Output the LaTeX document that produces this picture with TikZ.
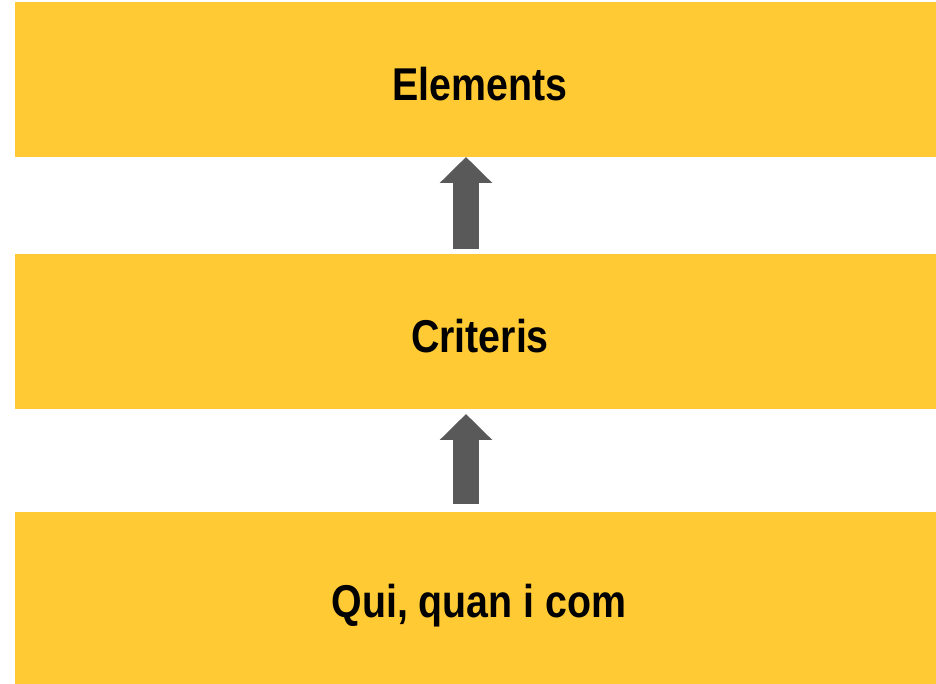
\documentclass[tikz,border=0pt]{standalone}
\usepackage{fontspec}
\setmainfont{Liberation Sans}[FakeStretch=0.855]
\usetikzlibrary{arrows.meta}
\definecolor{boxyellow}{HTML}{FFCA33}
\definecolor{arrowgray}{HTML}{595959}
\tikzset{
  box/.style={fill=boxyellow, draw=none, minimum width=921pt, inner sep=0pt, outer sep=0pt},
  label/.style={anchor=base, inner sep=0pt, font=\fontsize{46pt}{50pt}\selectfont\bfseries},
  uparrow/.style={draw=arrowgray, line width=26pt, -{Triangle[length=26pt, width=51pt]}}
}
\begin{document}
\begin{tikzpicture}[x=1pt,y=1pt]
\useasboundingbox (0,0) rectangle (936,684);
\node[box, minimum height=155pt] (top) at (475.5,604.5) {};
\node[box, minimum height=155pt] (mid) at (475.5,352.5) {};
\node[box, minimum height=172pt] (bot) at (475.5,86) {};
\node[label] (t1) at (480,583) {Elements};
\node[label] (t2) at (480,331) {Criteris};
\node[label] (t3) at (479,66) {Qui, quan i com};
\draw[uparrow, shorten <=5pt] ([xshift=-9.5pt]mid.north) -- ([xshift=-9.5pt]top.south);
\draw[uparrow, shorten <=8pt, shorten >=5pt] ([xshift=-9.5pt]bot.north) -- ([xshift=-9.5pt]mid.south);
\end{tikzpicture}
\end{document}
